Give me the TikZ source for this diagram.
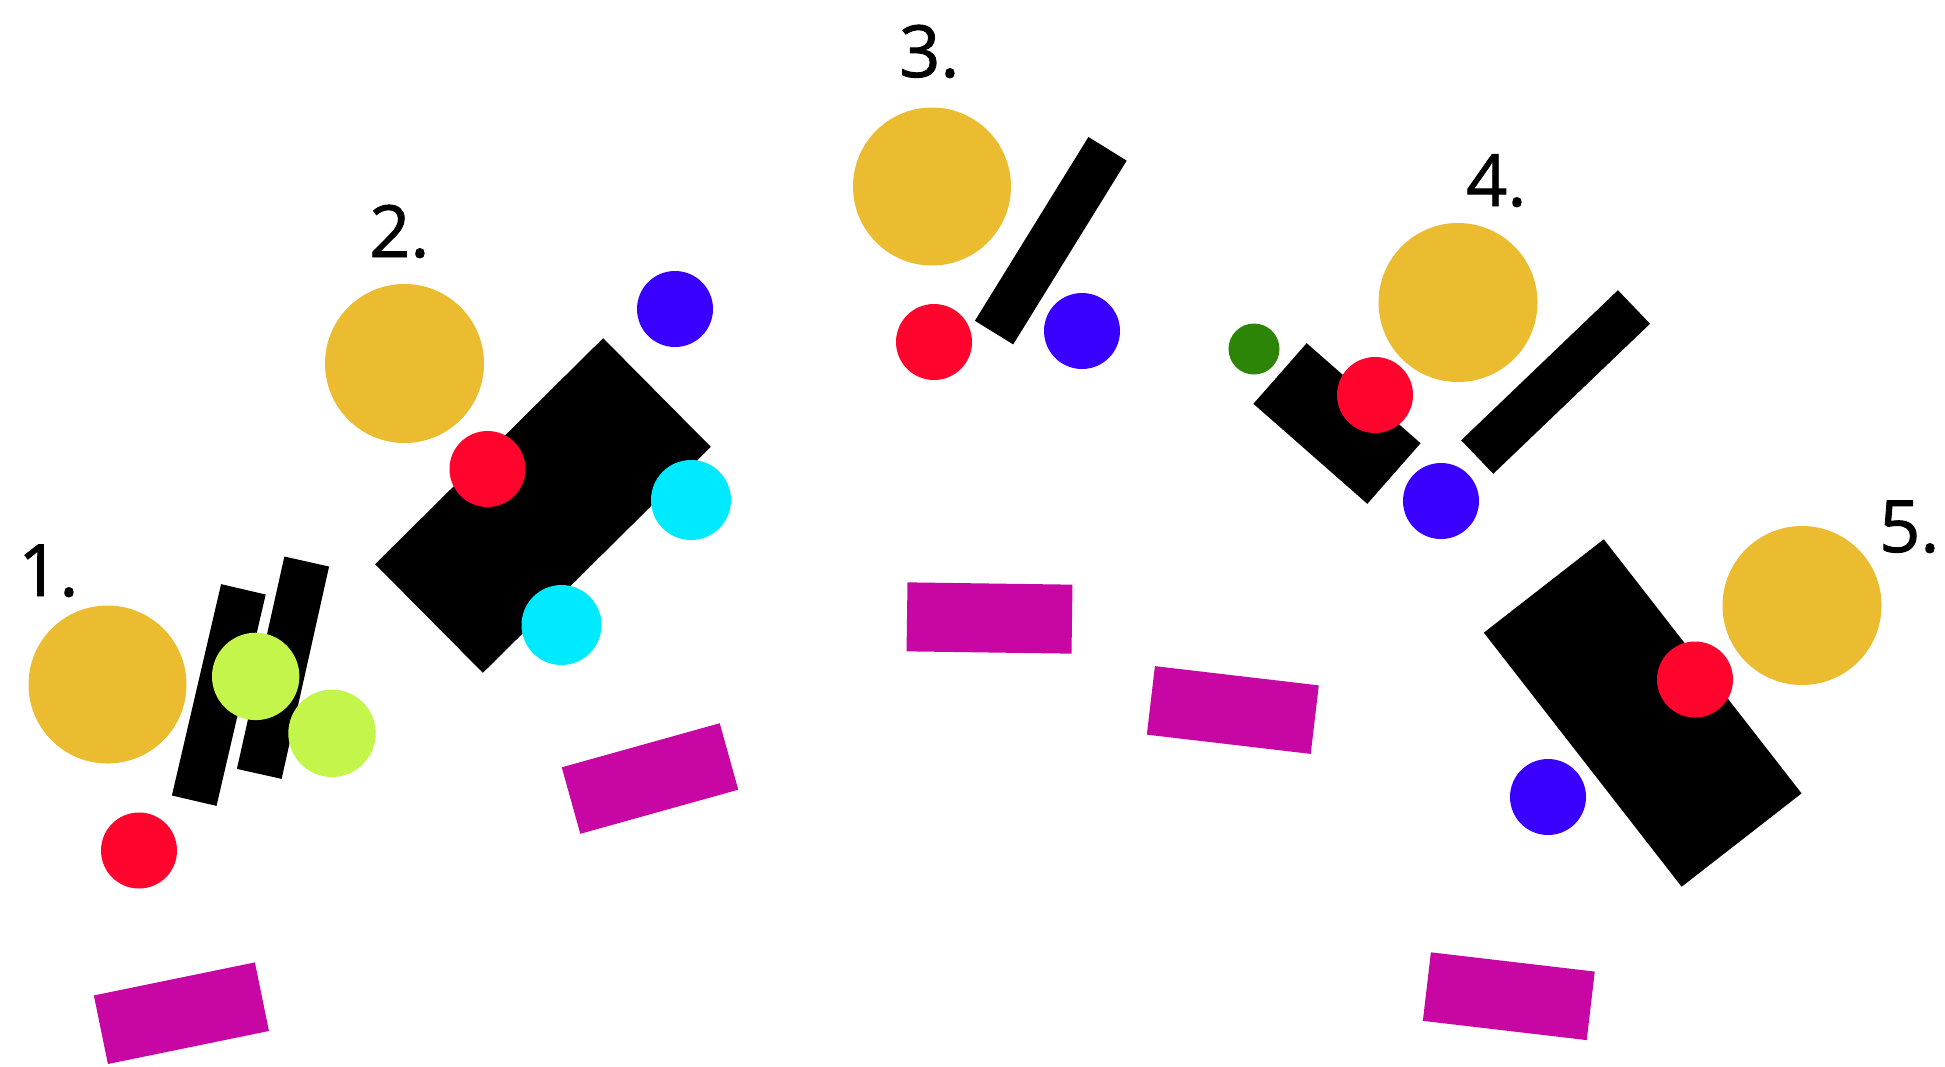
\documentclass[tikz,border=0pt]{standalone}
\usepackage{fontspec}
\setmainfont{Open Sans}
\newfontfamily\lblfont{Open Sans}[FakeBold=1.2]
\definecolor{cyel}{HTML}{EBBB30}
\definecolor{cred}{HTML}{FF052E}
\definecolor{cblu}{HTML}{3A00FF}
\definecolor{ccya}{HTML}{00EAFF}
\definecolor{clim}{HTML}{C4F54B}
\definecolor{cmag}{HTML}{C806A3}
\definecolor{cgrn}{HTML}{2C8506}
\begin{document}
\begin{tikzpicture}[x=1pt,y=-1pt,
  dot/.style={circle,inner sep=0pt,outer sep=0pt,draw=none,minimum size=#1},
  slab/.style={rectangle,inner sep=0pt,outer sep=0pt,draw=none,fill=black},
  tile/.style={rectangle,inner sep=0pt,outer sep=0pt,draw=none,fill=cmag,minimum width=165pt,minimum height=69pt},
  lbl/.style={anchor=base west,inner sep=0pt,font=\lblfont\fontsize{72}{72}\selectfont}]
\useasboundingbox (0,0) rectangle (1945,1066);
\fill[white] (0,0) rectangle (1945,1066);
% labels
\node[lbl] (l1) at (18,596) {1.};
\node[lbl] (l2) at (369,257) {2.};
\node[lbl] (l3) at (899,77) {3.};
\node[lbl] (l4) at (1466,206) {4.};
\node[lbl] (l5) at (1879,552) {5.};
% magenta tiles
\node[tile,rotate=11.6,minimum width=164.4pt,minimum height=70pt] (m1) at (181.4,1013.2) {};
\node[tile,rotate=15.6,minimum width=164pt] (m2) at (650,778.5) {};
\node[tile,rotate=-0.8] (m3) at (989.5,618) {};
\node[tile,rotate=-6.7] (m4) at (1232.8,710) {};
\node[tile,rotate=-6.7] (m5) at (1508.8,996.2) {};
% black shapes
\node[slab,rotate=76.9,minimum width=217pt,minimum height=45.8pt] (b1a) at (218.8,695) {};
\node[slab,rotate=77.4,minimum width=217.6pt,minimum height=45.8pt] (b1b) at (283,667.7) {};
\node[slab,rotate=44.75,minimum width=321pt,minimum height=153pt] (b2) at (543,505.5) {};
\node[slab,rotate=58.3,minimum width=216pt,minimum height=45pt] (b3) at (1050.8,240.7) {};
\node[slab,rotate=-41.3,minimum width=151.6pt,minimum height=80.7pt] (b4a) at (1337,423.5) {};
\node[slab,rotate=43.75,minimum width=217pt,minimum height=46.4pt] (b4b) at (1555.6,382) {};
\node[slab,rotate=-52.1,minimum width=322pt,minimum height=152pt] (b5) at (1642.7,713) {};
% group 1 circles
\node[dot=158pt,fill=cyel] (y1) at (107.5,684.5) {};
\node[dot=87.4pt,fill=clim] (g1a) at (255.7,676.4) {};
\node[dot=87.4pt,fill=clim] (g1b) at (332,733.3) {};
\node[dot=76pt,fill=cred] (r1) at (139,850.5) {};
% group 2 circles
\node[dot=159pt,fill=cyel] (y2) at (404.5,363.5) {};
\node[dot=76pt,fill=cblu] (u2) at (675,309) {};
\node[dot=76pt,fill=cred] (r2) at (487.5,469) {};
\node[dot=80pt,fill=ccya] (c2a) at (691,500) {};
\node[dot=80pt,fill=ccya] (c2b) at (561.5,625) {};
% group 3 circles
\node[dot=158pt,fill=cyel] (y3) at (932,186.5) {};
\node[dot=76pt,fill=cred] (r3) at (934,342) {};
\node[dot=76pt,fill=cblu] (u3) at (1082,331) {};
% group 4 circles
\node[dot=159pt,fill=cyel] (y4) at (1458,302.5) {};
\node[dot=51pt,fill=cgrn] (g4) at (1254,349) {};
\node[dot=76pt,fill=cred] (r4) at (1375,395) {};
\node[dot=76pt,fill=cblu] (u4) at (1441,501) {};
% group 5 circles
\node[dot=159pt,fill=cyel] (y5) at (1802,605.5) {};
\node[dot=76pt,fill=cred] (r5) at (1695,679.5) {};
\node[dot=76pt,fill=cblu] (u5) at (1548,797) {};
\end{tikzpicture}
\end{document}
